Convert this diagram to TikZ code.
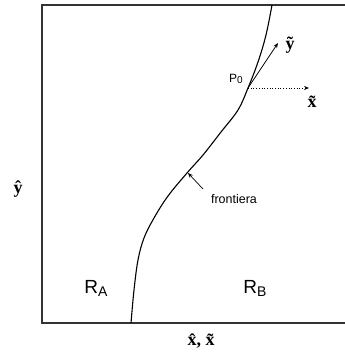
\documentclass[tikz,border=0pt]{standalone}
\usepackage{fontspec}
\setmainfont{Liberation Sans}
\newfontfamily\serifx{Liberation Serif}
\usetikzlibrary{arrows.meta}
\begin{document}
\begin{tikzpicture}[x=1pt,y=-1pt,
  frame/.style={draw=black!80,line width=1.6pt},
  curve/.style={draw=black,line width=1.1pt},
  arr/.style={-{Stealth[length=5pt,width=4pt]},line width=0.7pt},
  lbl/.style={inner sep=0pt,font=\fontsize{12}{14}\selectfont},
  big/.style={inner sep=0pt,font=\fontsize{19}{22}\selectfont},
  axl/.style={inner sep=0pt,font=\serifx\bfseries\fontsize{18}{20}\selectfont}]
\useasboundingbox (0,0) rectangle (345,354);
\fill[white] (0,0) rectangle (345,354);
\coordinate (tl) at (42,5);
\coordinate (tr) at (345,5);
\coordinate (bl) at (42,323);
\coordinate (br) at (345,323);
\draw[frame] (tr) -- (tl) -- (bl) -- (br);
\coordinate (P0) at (248,88);
\draw[curve] plot[smooth,tension=0.6] coordinates {(131,323) (134,290) (138,260) (144,238) (154,218) (168,196) (187,173) (203,155) (221,132) (238,110) (248,88) (258,62) (266,35) (272,5)};
\coordinate (ytip) at (278,43);
\coordinate (xtip) at (309,88);
\draw[arr] (P0) -- (ytip);
\draw[arr,dotted] (P0) -- (xtip);
\coordinate (fpt) at (188,173);
\coordinate (fs) at (203,189);
\draw[arr] (fs) -- (fpt);
\node[lbl] (p0l) at (236,79) {P\raisebox{-0.25ex}{\fontsize{10}{12}\selectfont 0}};
\node[axl] (yt) at (290,45) {ỹ};
\node[axl] (xt) at (312,102) {x̃};
\node[lbl,font=\fontsize{12.5}{14}\selectfont] (fr) at (234,199) {frontiera};
\node[big] (ra) at (96,288) {R\raisebox{-0.3ex}{\fontsize{14}{16}\selectfont A}};
\node[big] (rb) at (255,288) {R\raisebox{-0.3ex}{\fontsize{14}{16}\selectfont B}};
\node[axl] (yh) at (18,189) {ŷ};
\node[axl] (xh) at (201,341) {x̂, x̃};
\end{tikzpicture}
\end{document}
